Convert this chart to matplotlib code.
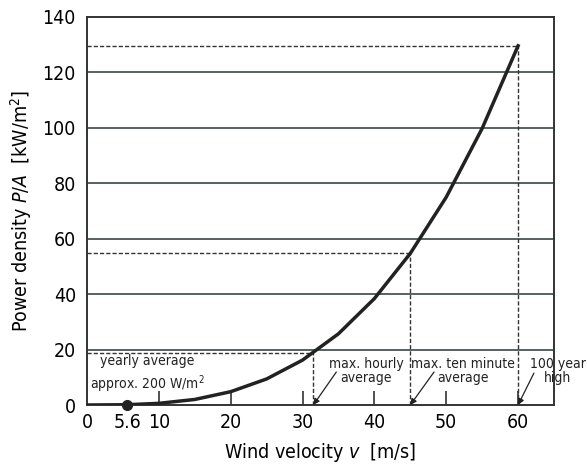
import matplotlib.pyplot as plt

plt.rcParams['font.family'] = ['DejaVu Sans']
plt.rcParams['font.stretch'] = 'condensed'

# wind velocity [m/s] and power density [kW/m^2]
velocity = [0, 5.6, 10, 15, 20, 25, 30, 35, 40, 45, 50, 55, 60]
power = [0, 0.1, 0.6, 2.0, 4.8, 9.4, 16.2, 25.7, 38.4, 54.7, 75.0, 99.8, 129.6]

# marked reference speeds (v, P/A)
marks_v = [31.5, 45, 60]
marks_p = [18.8, 54.7, 129.6]
mark_labels = ['max. hourly\naverage', 'max. ten minute\naverage', '100 year\nhigh']

xticks = [0, 5.6, 10, 20, 30, 40, 50, 60]
xticklabels = ['0', '5.6', '10', '20', '30', '40', '50', '60']
yticks = [0, 20, 40, 60, 80, 100, 120, 140]

fig = plt.figure(figsize=(5.87, 4.65), dpi=100)
ax = fig.add_axes([87 / 587, 60 / 465, 467 / 587, 388 / 465])

dark = '#333333'
for y in yticks[1:-1]:
    ax.axhline(y, color='#4a5555', lw=1.3, zorder=1)

ax.plot(velocity, power, color='#222222', lw=2.5, zorder=4, solid_joinstyle='round')
ax.plot([5.6], [0], 'o', color='#222222', ms=7, zorder=5, clip_on=False)

dash = dict(color=dark, lw=1.0, ls=(0, (3, 1.5)), zorder=3)
for v, p in zip(marks_v, marks_p):
    ax.plot([0, v], [p, p], **dash)
    ax.plot([v, v], [0, p], **dash)

text_pos = [(38.9, 12.3), (52.3, 12.3), (65.5, 12.3)]
arrow_start = [(34.7, 11.9), (48.3, 11.9), (62.2, 11.5)]
for (tx, ty), (sx, sy), v, lab in zip(text_pos, arrow_start, marks_v, mark_labels):
    ax.text(tx, ty, lab, ha='center', va='center', fontsize=10,
            color='#222222', linespacing=0.95, clip_on=False)
    ax.annotate('', xy=(v, 0), xytext=(sx, sy),
                arrowprops=dict(arrowstyle='-|>', color='#222222', lw=0.9,
                                mutation_scale=9, shrinkA=0, shrinkB=0),
                annotation_clip=False, zorder=6)

ax.text(8.4, 11.0, 'yearly average\napprox. 200 W/m$^2$', ha='center',
        va='center', fontsize=10, color='#222222', linespacing=1.35)

ax.set_xlim(0, 65)
ax.set_ylim(0, 140)
ax.set_xticks(xticks)
ax.set_xticklabels(xticklabels)
ax.set_yticks(yticks)
ax.tick_params(axis='x', direction='in', length=10, width=1.2, color=dark,
               labelsize=14, pad=6)
ax.tick_params(axis='y', length=0, labelsize=14, pad=8)
for t in ax.xaxis.get_major_ticks()[:2]:
    t.tick1line.set_visible(False)
for s in ax.spines.values():
    s.set_color(dark)
    s.set_linewidth(1.4)

ax.set_xlabel('Wind velocity $\\mathit{v}$  [m/s]', fontsize=14, labelpad=6)
ax.set_ylabel('Power density $\\mathit{P/A}$  [kW/m$^2$]', fontsize=14, labelpad=6)

fig.savefig('out.png', dpi=100)
